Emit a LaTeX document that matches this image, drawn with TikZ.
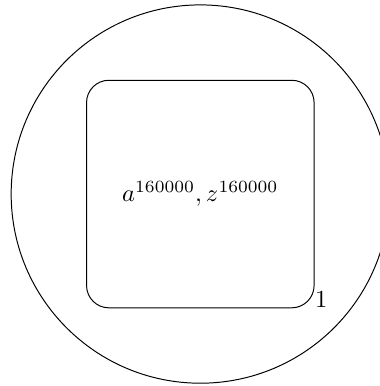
\documentclass[tikz,border=0pt]{standalone}
\usetikzlibrary{positioning}

\begin{document}
\begin{tikzpicture}[
  box/.style={draw, rounded corners=0.32cm, minimum size=3.26cm, inner sep=0pt}]

  \useasboundingbox (-2.87, -2.75) rectangle (2.57, 2.78);
  \coordinate (O) at (0, 0);

  % outer circle
  \node[draw, circle, minimum size=5.42cm, inner sep=0pt] (outer) at (O) {};

  % inner rounded square
  \node[box] (sq) at (O) {$a^{160000}, z^{160000}$};

  % label
  \node[anchor=south west, inner sep=0pt] (lbl) at (sq.south east) {1};
\end{tikzpicture}
\end{document}
